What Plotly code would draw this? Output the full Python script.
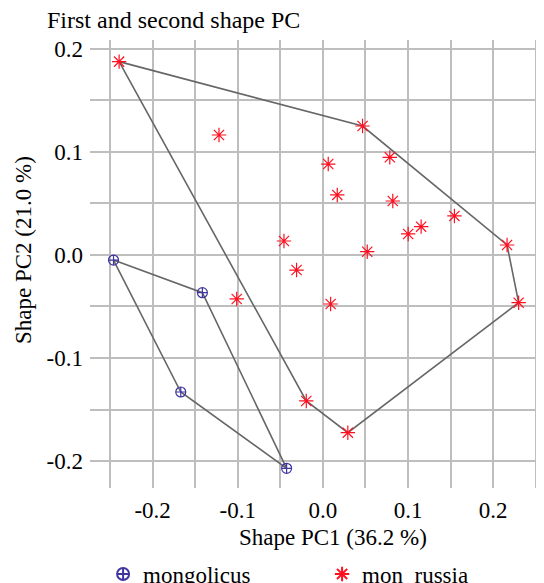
import plotly.graph_objects as go

# mongolicus (hull order)
mong_x = [-0.2459, -0.1415, -0.0426, -0.1669]
mong_y = [-0.0049, -0.0366, -0.2071, -0.1330]
mong_hull = [0, 1, 2, 3, 0]

# mon_russia
rus_x = [-0.2393, -0.1220, 0.0466, 0.0063, 0.0786, 0.0169, 0.0821, 0.1154, 0.1002,
         0.1545, -0.0457, 0.0521, -0.0309, -0.1012, 0.0091, 0.2163, 0.2299, -0.0195, 0.0293]
rus_y = [0.1877, 0.1165, 0.1252, 0.0883, 0.0948, 0.0583, 0.0524, 0.0275, 0.0204,
         0.0379, 0.0136, 0.0032, -0.0146, -0.0427, -0.0476, 0.0097, -0.0463, -0.1417, -0.1725]
rus_hull = [0, 2, 15, 16, 18, 17, 0]

x_ticks = [-0.2, -0.1, 0.0, 0.1, 0.2]
y_ticks = [-0.2, -0.1, 0.0, 0.1, 0.2]
x_labels = ["-0.2", "-0.1", "0.0", "0.1", "0.2"]
y_labels = ["-0.2", "-0.1", "0.0", "0.1", "0.2"]

FONT = "Liberation Serif"
FS = 23
GRID = "#bebebe"
HULL = "#666666"
BLUE = "#3f35a0"
RED = "#ff1020"

# page body has an 8px margin; figure is laid out in its own coordinates
W, H = 536, 575
L, T, B = 82, 32, 95
PW, PH = W - L, H - T - B

fig = go.Figure()
fig.add_trace(go.Scatter(x=[mong_x[i] for i in mong_hull], y=[mong_y[i] for i in mong_hull],
                         mode="lines", line=dict(color=HULL, width=1.6), showlegend=False, hoverinfo="skip"))
fig.add_trace(go.Scatter(x=[rus_x[i] for i in rus_hull], y=[rus_y[i] for i in rus_hull],
                         mode="lines", line=dict(color=HULL, width=1.6), showlegend=False, hoverinfo="skip"))
fig.add_trace(go.Scatter(x=mong_x, y=mong_y, mode="markers", name="mongolicus",
                         marker=dict(symbol="circle-cross-open", size=10, color=BLUE, line=dict(width=1.2, color=BLUE))))
fig.add_trace(go.Scatter(x=rus_x, y=rus_y, mode="markers", name="mon_russia",
                         marker=dict(symbol="asterisk-open", size=12, color=RED, line=dict(width=1.2, color=RED))))

axis_common = dict(showgrid=True, gridcolor=GRID, gridwidth=2, zeroline=False, showline=False,
                   ticks="", tickfont=dict(family=FONT, size=FS, color="black"))
fig.update_xaxes(range=[-0.2735, 0.2597], tickvals=x_ticks, ticktext=x_labels,
                 minor=dict(tickvals=[-0.25, -0.15, -0.05, 0.05, 0.15, 0.25], showgrid=True, gridcolor=GRID, gridwidth=2),
                 ticklabelstandoff=6, **axis_common)
fig.update_yaxes(range=[-0.2262, 0.2087], tickvals=y_ticks, ticktext=y_labels,
                 minor=dict(tickvals=[-0.15, -0.05, 0.05, 0.15], showgrid=True, gridcolor=GRID, gridwidth=2),
                 ticklabelstandoff=6, **axis_common)

fig.update_layout(
    width=W, height=H,
    margin=dict(l=L, r=0, t=T, b=B, autoexpand=False),
    paper_bgcolor="white", plot_bgcolor="white",
    font=dict(family=FONT, size=FS, color="black"),
    title=dict(text="First and second shape PC", x=39 / W, xanchor="left", xref="container",
               y=1 - 11.5 / H, yanchor="middle", yref="container", font=dict(family=FONT, size=24)),
    showlegend=True,
    legend=dict(orientation="h", x=-0.002, xanchor="left", y=(H - B - 566) / PH, yanchor="middle",
                indentation=14, entrywidth=160, entrywidthmode="pixels", font=dict(family=FONT, size=FS),
                bgcolor="rgba(0,0,0,0)", itemsizing="constant"),
    annotations=[
        dict(text="Shape PC1 (36.2 %)", xref="paper", yref="paper", x=(325 - L) / PW, y=(H - B - 529) / PH,
             xanchor="center", yanchor="middle", showarrow=False, font=dict(family=FONT, size=FS)),
        dict(text="Shape PC2 (21.0 %)", xref="paper", yref="paper", x=(15 - L) / PW, y=(H - B - 242) / PH,
             xanchor="center", yanchor="middle", showarrow=False, textangle=-90, font=dict(family=FONT, size=FS)),
    ],
)

fig.write_html("out.html")
